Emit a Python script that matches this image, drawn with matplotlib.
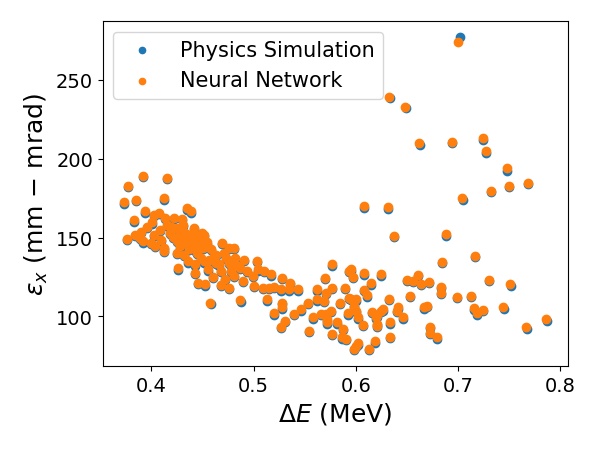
import matplotlib
matplotlib.use("Agg")
import matplotlib.pyplot as plt

# energy spread (MeV) and emittance (mm-mrad)
de_nn = [
    0.373, 0.376, 0.377, 0.383, 0.384, 0.385, 0.389, 0.390, 0.392, 0.392,
    0.394, 0.401, 0.402, 0.402, 0.400, 0.403, 0.407, 0.409, 0.412, 0.412,
    0.412, 0.413, 0.415, 0.415, 0.418, 0.421, 0.422, 0.425, 0.425, 0.425,
    0.426, 0.428, 0.428, 0.431, 0.432, 0.435, 0.436, 0.439, 0.438, 0.440,
    0.441, 0.443, 0.443, 0.444, 0.445, 0.445, 0.446, 0.449, 0.450, 0.451,
    0.451, 0.451, 0.452, 0.455, 0.457, 0.461, 0.463, 0.463, 0.468, 0.468,
    0.469, 0.471, 0.473, 0.476, 0.476, 0.476, 0.481, 0.481, 0.482, 0.487,
    0.487, 0.490, 0.491, 0.494, 0.499, 0.500, 0.503, 0.504, 0.509, 0.510,
    0.513, 0.515, 0.517, 0.520, 0.520, 0.527, 0.527, 0.528, 0.528, 0.528,
    0.531, 0.535, 0.536, 0.540, 0.543, 0.546, 0.553, 0.554, 0.558, 0.562,
    0.562, 0.566, 0.570, 0.571, 0.569, 0.571, 0.572, 0.572, 0.576, 0.577,
    0.577, 0.577, 0.582, 0.585, 0.587, 0.588, 0.589, 0.590, 0.592, 0.593,
    0.593, 0.595, 0.595, 0.597, 0.598, 0.598, 0.598, 0.600, 0.600, 0.600,
    0.602, 0.602, 0.607, 0.608, 0.608, 0.608, 0.611, 0.613, 0.615, 0.616,
    0.619, 0.620, 0.621, 0.621, 0.621, 0.625, 0.625, 0.627, 0.632, 0.633,
    0.633, 0.634, 0.634, 0.637, 0.640, 0.641, 0.646, 0.648, 0.650, 0.653,
    0.656, 0.661, 0.662, 0.664, 0.667, 0.670, 0.672, 0.673, 0.673, 0.680,
    0.683, 0.683, 0.684, 0.688, 0.694, 0.699, 0.700, 0.704, 0.713, 0.716,
    0.717, 0.719, 0.725, 0.725, 0.728, 0.730, 0.732, 0.744, 0.748, 0.750,
    0.751, 0.767, 0.769, 0.786,
    0.433, 0.437, 0.447, 0.454, 0.458, 0.448, 0.456, 0.433, 0.466, 0.478,
    0.484, 0.472, 0.460, 0.419, 0.408, 0.396, 0.430, 0.442,
]
emit_nn = [
    172.5, 149.0, 182.8, 161.0, 151.9, 174.0, 149.8, 153.6, 189.1, 147.7,
    166.6, 159.7, 164.5, 151.9, 146.6, 144.8, 165.5, 148.7, 175.0, 143.5,
    141.4, 162.4, 188.0, 158.2, 152.9, 150.5, 162.4, 156.1, 147.7, 140.3,
    130.4, 151.9, 144.5, 158.2, 139.2, 168.7, 135.1, 166.6, 151.9, 146.6,
    152.9, 133.0, 127.7, 142.0, 150.9, 140.3, 121.4, 152.9, 143.5, 148.7,
    151.9, 135.1, 120.4, 129.8, 108.8, 138.2, 134.0, 139.2, 128.7, 119.9,
    146.6, 140.3, 137.2, 134.0, 118.3, 143.5, 125.6, 143.5, 137.2, 110.3,
    130.9, 122.4, 136.1, 128.8, 125.6, 119.3, 135.1, 129.8, 118.3, 128.8,
    110.9, 118.3, 126.7, 118.8, 101.9, 93.5, 117.2, 124.6, 108.8, 105.7,
    97.3, 117.2, 121.4, 101.5, 117.2, 104.6, 108.8, 91.0, 99.4, 117.2,
    110.9, 101.5, 124.6, 101.5, 109.8, 115.1, 96.2, 98.3, 103.6, 133.0,
    88.9, 118.3, 96.2, 108.8, 86.8, 92.0, 118.3, 86.0, 102.1, 128.8,
    112.0, 130.0, 111.3, 125.0, 104.6, 106.7, 79.4, 81.5, 110.9, 103.6,
    83.0, 99.4, 94.8, 170.0, 127.3, 116.8, 113.4, 79.4, 121.0, 103.0,
    84.2, 99.4, 93.9, 100.8, 95.2, 126.7, 103.6, 104.6, 169.3, 239.1,
    111.3, 87.2, 96.2, 151.2, 103.6, 105.7, 99.4, 233.0, 123.1, 113.0,
    122.5, 126.5, 210.1, 120.6, 105.7, 106.7, 121.9, 93.5, 89.6, 86.8,
    118.7, 114.9, 134.7, 152.5, 210.5, 112.4, 274.1, 175.0, 113.2, 105.2,
    138.6, 101.9, 104.2, 213.2, 205.2, 123.1, 179.6, 105.9, 193.9, 182.8,
    120.6, 93.1, 184.9, 98.1,
    147.0, 143.0, 146.0, 147.0, 143.0, 137.0, 136.0, 153.0, 133.0, 129.0,
    132.0, 124.0, 125.0, 157.0, 155.0, 157.0, 162.0, 156.0,
]

de_sim = [
    0.373, 0.376, 0.377, 0.383, 0.384, 0.385, 0.389, 0.390, 0.392, 0.392,
    0.394, 0.401, 0.402, 0.402, 0.400, 0.403, 0.407, 0.409, 0.412, 0.412,
    0.412, 0.413, 0.415, 0.415, 0.418, 0.421, 0.422, 0.425, 0.425, 0.425,
    0.426, 0.428, 0.428, 0.431, 0.432, 0.435, 0.436, 0.439, 0.438, 0.440,
    0.441, 0.443, 0.443, 0.444, 0.445, 0.445, 0.446, 0.449, 0.450, 0.451,
    0.451, 0.451, 0.452, 0.455, 0.458, 0.461, 0.463, 0.463, 0.468, 0.468,
    0.469, 0.471, 0.473, 0.476, 0.476, 0.476, 0.481, 0.481, 0.482, 0.488,
    0.487, 0.490, 0.491, 0.494, 0.499, 0.500, 0.503, 0.504, 0.509, 0.510,
    0.513, 0.515, 0.517, 0.520, 0.520, 0.527, 0.527, 0.528, 0.528, 0.528,
    0.531, 0.535, 0.536, 0.540, 0.543, 0.546, 0.553, 0.554, 0.558, 0.562,
    0.562, 0.566, 0.570, 0.571, 0.569, 0.571, 0.572, 0.572, 0.576, 0.577,
    0.577, 0.577, 0.582, 0.585, 0.587, 0.588, 0.589, 0.590, 0.592, 0.593,
    0.593, 0.595, 0.595, 0.597, 0.598, 0.598, 0.598, 0.600, 0.600, 0.600,
    0.602, 0.602, 0.607, 0.608, 0.608, 0.608, 0.611, 0.613, 0.615, 0.616,
    0.619, 0.620, 0.621, 0.621, 0.621, 0.625, 0.625, 0.627, 0.632, 0.634,
    0.633, 0.634, 0.634, 0.637, 0.640, 0.641, 0.646, 0.649, 0.650, 0.653,
    0.656, 0.661, 0.663, 0.664, 0.667, 0.670, 0.672, 0.673, 0.673, 0.680,
    0.683, 0.683, 0.684, 0.688, 0.694, 0.699, 0.702, 0.705, 0.713, 0.716,
    0.717, 0.719, 0.725, 0.725, 0.728, 0.730, 0.732, 0.745, 0.748, 0.750,
    0.752, 0.768, 0.769, 0.787,
    0.433, 0.437, 0.447, 0.454, 0.458, 0.448, 0.456, 0.433, 0.466, 0.478,
    0.484, 0.472, 0.460, 0.419, 0.408, 0.396, 0.430, 0.442,
]
emit_sim = [
    171.6, 148.3, 182.0, 160.1, 151.0, 173.2, 149.0, 152.8, 188.4, 146.8,
    165.8, 158.9, 163.6, 151.1, 145.7, 144.0, 164.7, 147.8, 174.1, 142.7,
    140.6, 161.6, 187.2, 157.3, 152.0, 149.7, 161.5, 155.3, 146.9, 139.4,
    129.5, 151.0, 143.7, 157.4, 138.3, 167.6, 134.2, 165.7, 151.0, 145.8,
    152.0, 132.1, 126.8, 141.1, 150.0, 139.5, 120.5, 152.1, 142.6, 147.9,
    151.1, 134.2, 119.6, 128.9, 107.6, 137.4, 133.1, 138.4, 127.9, 119.0,
    145.8, 139.4, 136.4, 133.2, 117.4, 142.6, 124.8, 142.7, 136.3, 109.2,
    130.0, 121.6, 135.2, 128.0, 124.7, 118.4, 134.3, 128.9, 117.5, 127.9,
    109.9, 117.5, 125.8, 118.0, 101.0, 92.6, 116.3, 123.8, 107.9, 104.8,
    96.4, 116.3, 120.5, 100.6, 116.4, 103.7, 107.9, 90.1, 98.5, 116.3,
    110.0, 100.7, 123.7, 100.6, 108.9, 114.2, 95.3, 97.4, 102.8, 132.1,
    88.0, 117.4, 95.3, 107.9, 85.9, 91.1, 117.4, 85.2, 101.2, 127.9,
    111.1, 129.1, 110.4, 124.1, 103.7, 105.8, 78.6, 80.6, 110.0, 102.7,
    82.1, 98.5, 93.9, 168.9, 126.4, 115.9, 112.5, 78.5, 120.1, 102.1,
    83.3, 98.5, 93.0, 99.9, 94.3, 125.8, 102.7, 103.7, 168.2, 238.2,
    110.4, 86.3, 95.3, 150.2, 102.7, 104.8, 98.5, 232.0, 122.2, 112.1,
    121.6, 125.6, 208.6, 119.7, 104.8, 105.8, 121.0, 92.6, 88.7, 85.9,
    117.8, 114.0, 133.6, 151.3, 209.8, 111.5, 277.3, 173.9, 112.2, 104.3,
    137.7, 101.0, 103.3, 211.8, 203.8, 122.2, 178.7, 104.8, 192.4, 181.9,
    119.5, 92.0, 183.9, 97.0,
    146.2, 142.1, 145.2, 146.1, 142.2, 136.1, 135.2, 152.1, 132.2, 128.1,
    131.1, 123.2, 124.1, 156.2, 154.1, 156.2, 161.1, 155.2,
]

x_ticks = [0.4, 0.5, 0.6, 0.7, 0.8]
y_ticks = [100, 150, 200, 250]

fig = plt.figure(figsize=(5.94, 4.52), dpi=100)
ax = fig.add_subplot(111)
fig.subplots_adjust(left=0.173, right=0.956, top=0.951, bottom=0.188)

ax.scatter(de_sim, emit_sim, c='tab:blue', s=36, label='Physics Simulation')
ax.scatter(de_nn, emit_nn, c='tab:orange', s=36, label='Neural Network')

ax.set_xticks(x_ticks)
ax.set_yticks(y_ticks)
ax.tick_params(labelsize=14)
ax.set_xlabel(r'$\Delta E$ (MeV)', fontsize=18)
ax.set_ylabel(r'$\epsilon_x$ (mm $-$ mrad)', fontsize=18)
ax.legend(loc='upper left', fontsize=15, markerscale=0.75)

plt.savefig('out.png', dpi=100)
